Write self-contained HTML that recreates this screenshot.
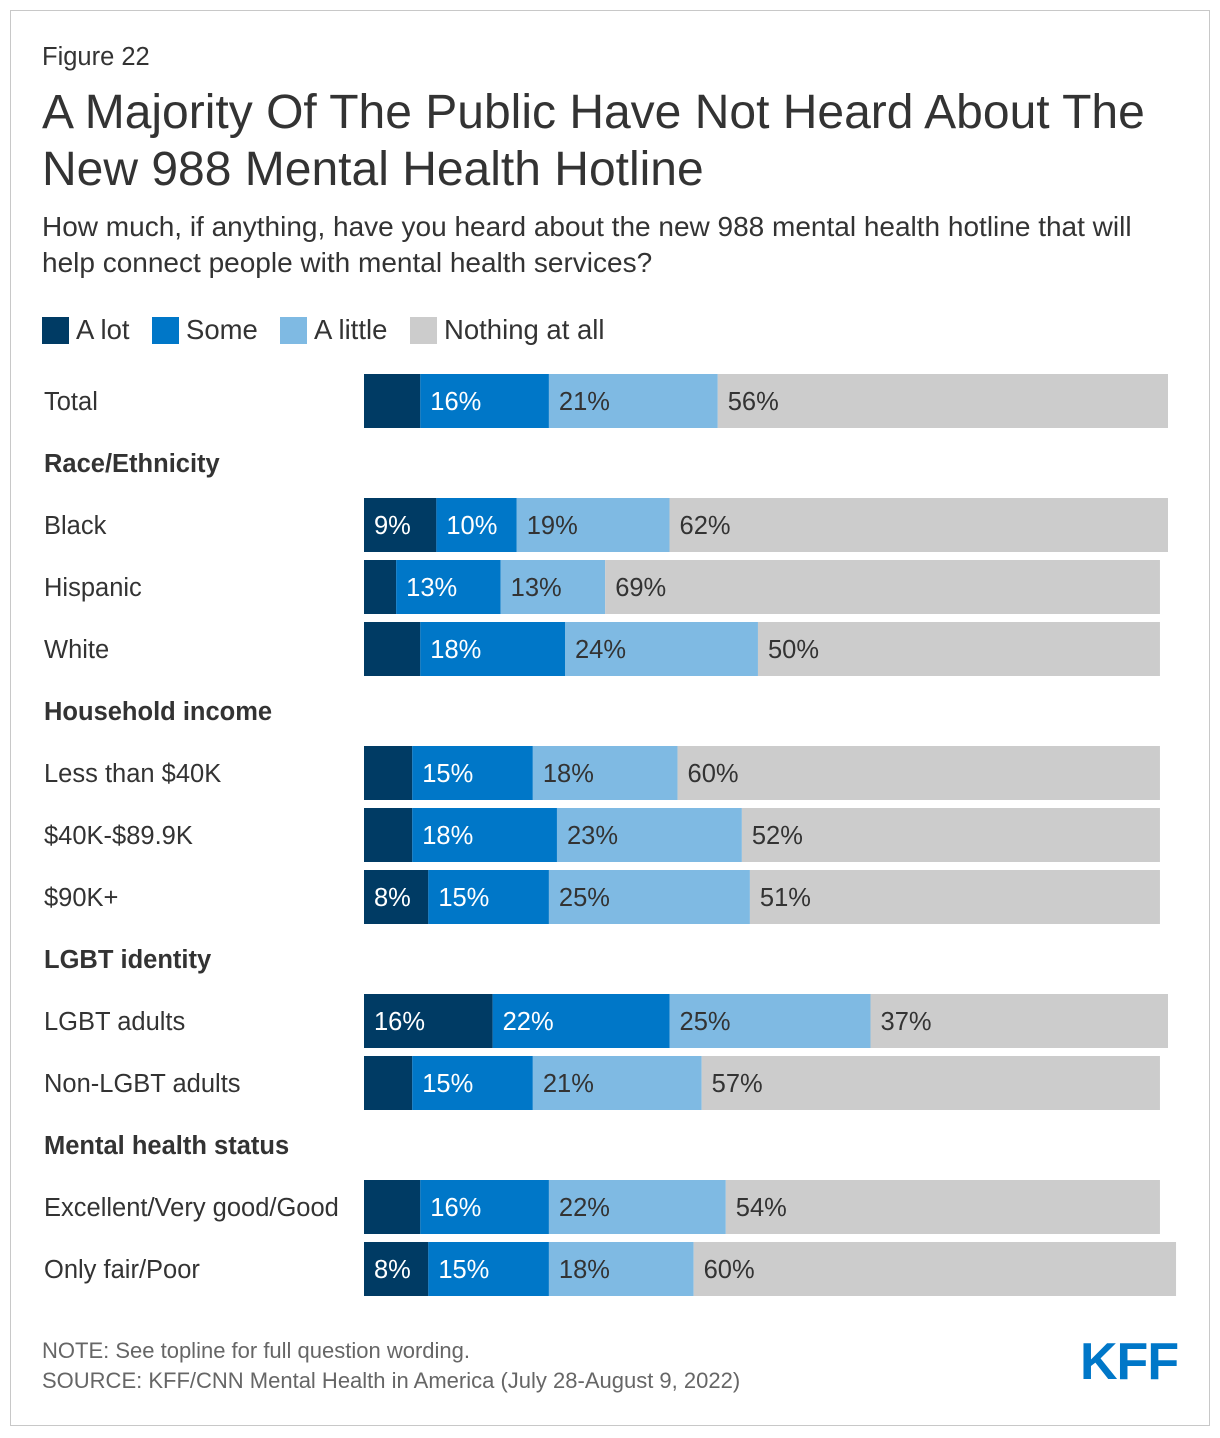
<!DOCTYPE html>
<html><head><meta charset="utf-8">
<style>
body{margin:0;background:#fff;font-family:"Liberation Sans",Arial,sans-serif;}
#frame{position:absolute;left:10px;top:10px;width:1198px;height:1414px;border:1px solid #c8c8c8;}
.t{position:absolute;white-space:nowrap;color:#333;}
</style></head><body>
<div id="frame"></div>
<div class="t" style="left:42px;top:43px;font-size:25.5px;">Figure 22</div>
<div class="t" style="left:42px;top:84px;font-size:48px;line-height:57px;">A Majority Of The Public Have Not Heard About The<br>New 988 Mental Health Hotline</div>
<div class="t" style="left:42px;top:209px;font-size:28px;line-height:36px;">How much, if anything, have you heard about the new 988 mental health hotline that will<br>help connect people with mental health services?</div>
<div id="legend"></div>
<svg id="chart" width="1220" height="1438" style="position:absolute;left:0;top:0"></svg>
<div class="t" style="left:42px;top:1338px;font-size:22px;color:#666;">NOTE: See topline for full question wording.</div>
<div class="t" style="left:42px;top:1368px;font-size:22px;color:#666;">SOURCE: KFF/CNN Mental Health in America (July 28-August 9, 2022)</div>
<div class="t" style="left:1080px;top:1332px;font-size:52px;font-weight:bold;color:#0077c8;letter-spacing:-1px;">KFF</div>
<script>
const rowLabels=["Total","Race/Ethnicity","Black","Hispanic","White","Household income","Less than $40K","$40K-$89.9K","$90K+","LGBT identity","LGBT adults","Non-LGBT adults","Mental health status","Excellent/Very good/Good","Only fair/Poor"];
const isHeader=[0,1,0,0,0,1,0,0,0,1,0,0,1,0,0];
const aLot=[7,null,9,4,7,null,6,6,8,null,16,6,null,7,8];
const some=[16,null,10,13,18,null,15,18,15,null,22,15,null,16,15];
const aLittle=[21,null,19,13,24,null,18,23,25,null,25,21,null,22,18];
const nothing=[56,null,62,69,50,null,60,52,51,null,37,57,null,54,60];
const seriesNames=["A lot","Some","A little","Nothing at all"];
const colors=["#003b64","#0077c8","#7fbae3","#cccccc"];
const textColors=["#fff","#fff","#333","#333"];
const x0=364,pxPer=8.04,y0=401,rowStep=62,barH=54;
const xs=v=>v*pxPer;
const yc=i=>y0+i*rowStep;
const svg=document.getElementById('chart');
const NS='http://www.w3.org/2000/svg';
const series=[aLot,some,aLittle,nothing];
rowLabels.forEach((lab,i)=>{
  const t=document.createElementNS(NS,'text');
  
  
  t.setAttribute('x',44);t.setAttribute('y',yc(i)+9);
  t.setAttribute('font-size','25.5');t.setAttribute('fill','#333');
  if(isHeader[i])t.setAttribute('font-weight','bold');
  t.textContent=lab;svg.appendChild(t);
  if(isHeader[i])return;
  let x=x0;
  series.forEach((s,k)=>{
    const v=s[i];const w=xs(v);
    const r=document.createElementNS(NS,'rect');
    
    
    r.setAttribute('x',x);r.setAttribute('y',yc(i)-barH/2);
    r.setAttribute('width',w);r.setAttribute('height',barH);
    r.setAttribute('fill',colors[k]);svg.appendChild(r);
    if(v>=8){
      const l=document.createElementNS(NS,'text');
      
      
      l.setAttribute('x',x+10);l.setAttribute('y',yc(i)+9);
      l.setAttribute('font-size','25.5');l.setAttribute('fill',textColors[k]);
      l.textContent=v+'%';svg.appendChild(l);
    }
    x+=w;
  });
});
const lg=document.getElementById('legend');
const lx=[42,152,280,410];
seriesNames.forEach((n,k)=>{
  const sw=document.createElement('div');
  
  
  sw.style.cssText=`position:absolute;left:${lx[k]}px;top:317px;width:27px;height:27px;background:${colors[k]}`;
  lg.appendChild(sw);
  const t=document.createElement('div');
  
  
  t.className='t';t.style.cssText=`left:${lx[k]+34}px;top:314px;font-size:27.5px;`;
  t.textContent=n;lg.appendChild(t);
});
</script>
</body></html>
